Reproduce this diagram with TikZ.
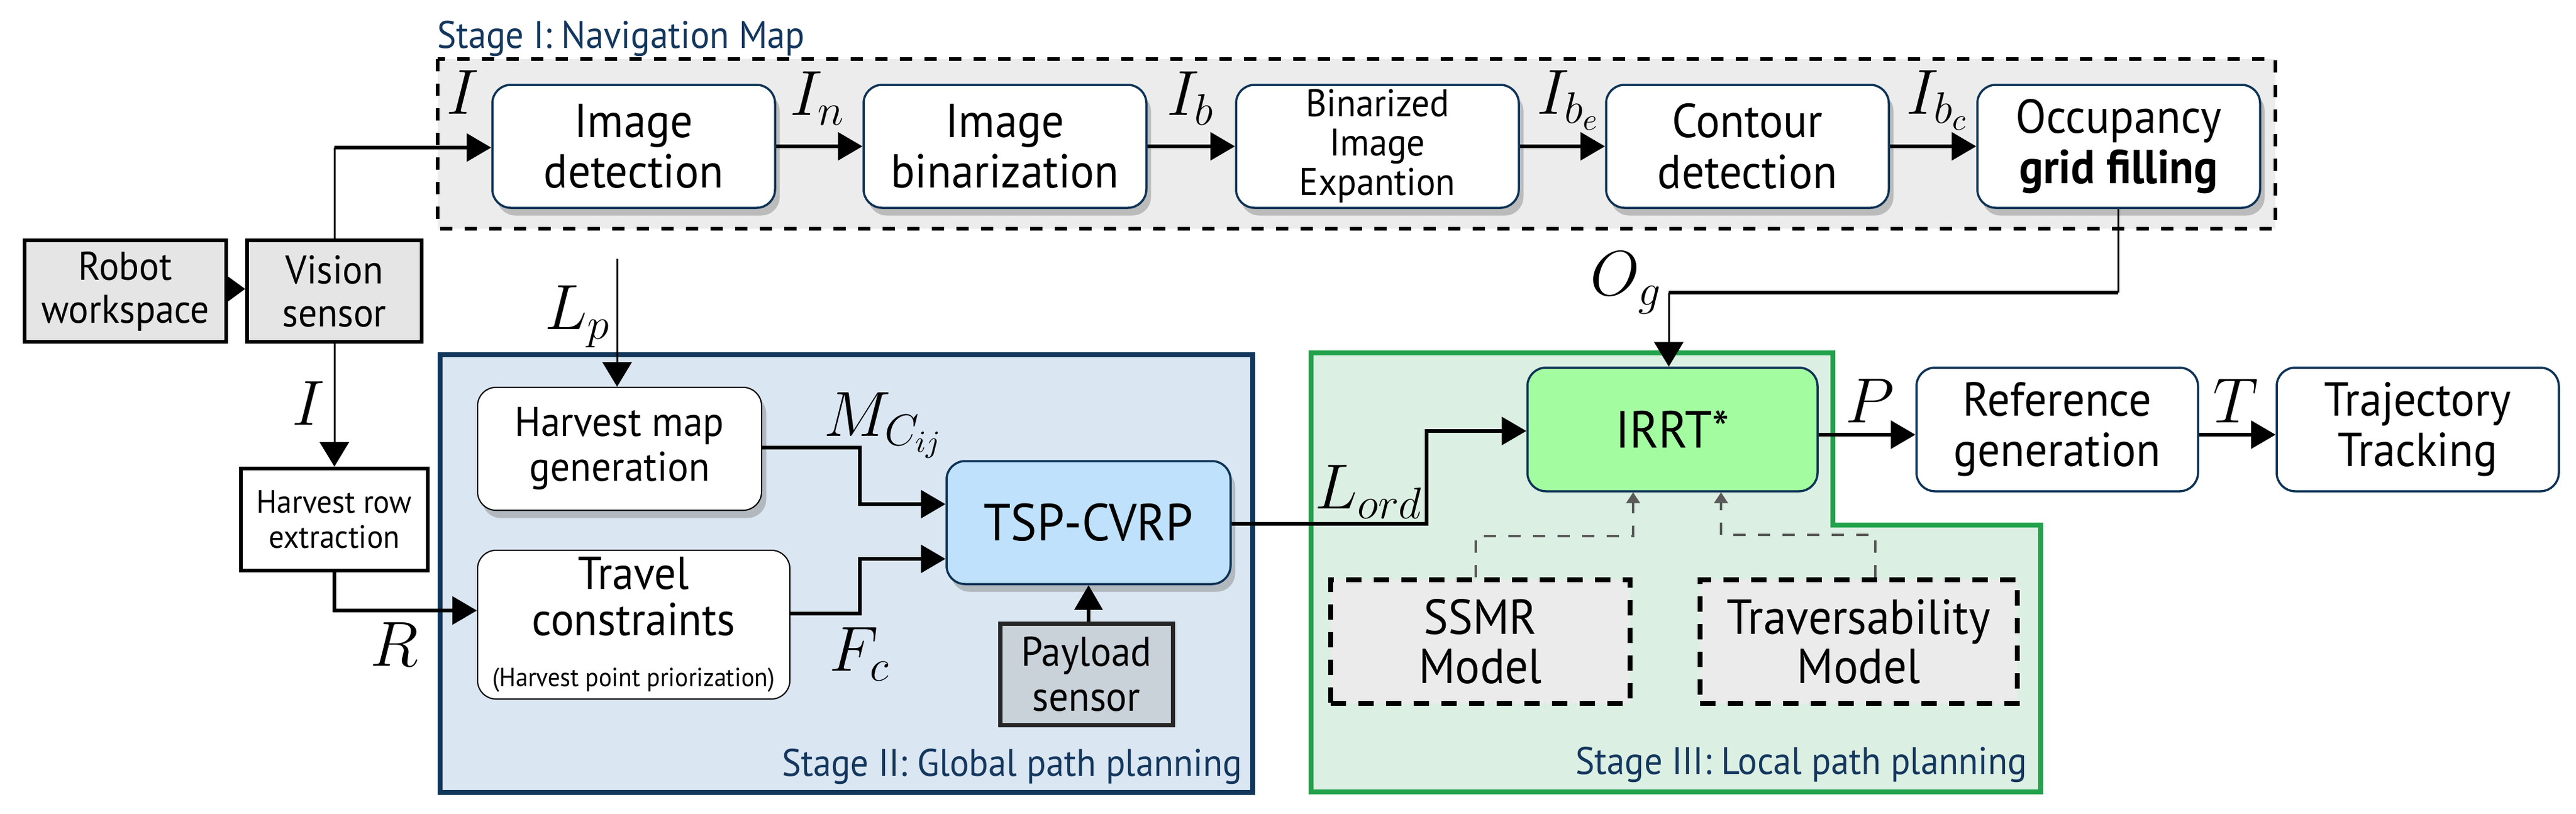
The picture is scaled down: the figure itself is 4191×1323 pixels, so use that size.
\documentclass[tikz,border=0pt]{standalone}
\usepackage[no-math]{fontspec}
\setmainfont{PT Sans}[FakeStretch=0.94]
\usetikzlibrary{arrows.meta,shadows}
\definecolor{nodeblue}{HTML}{0D3356}
\definecolor{titleblue}{HTML}{14375E}
\definecolor{stagegray}{HTML}{ECECEC}
\definecolor{boxgray}{HTML}{E5E5E5}
\definecolor{stagetwo}{HTML}{DAE6F2}
\definecolor{stagetwoborder}{HTML}{12375A}
\definecolor{tspfill}{HTML}{BFE1FB}
\definecolor{payfill}{HTML}{C9D1D9}
\definecolor{stagethree}{HTML}{DCEFE3}
\definecolor{stagethreeborder}{HTML}{22A24A}
\definecolor{irrtfill}{HTML}{A3FDA0}
\definecolor{modelgray}{HTML}{EBEBEB}
\definecolor{dgray}{HTML}{5A5A5A}
\newcommand\fsz[2]{\fontsize{#1}{#2}\selectfont}
\begin{document}
\begin{tikzpicture}[x=0.2pt,y=-0.2pt,
  proc/.style={draw=nodeblue, line width=0.7pt, fill=white, rounded corners=6pt,
    inner sep=0pt, align=center, minimum width=92pt, minimum height=40pt,
    font=\fsz{15.5}{16.5}},
  shad/.style={drop shadow={shadow xshift=1.5pt,shadow yshift=-2.5pt,opacity=0.45}},
  graybox/.style={draw=black, line width=1.2pt, fill=boxgray, inner sep=0pt,
    align=center, minimum height=33pt, font=\fsz{13}{14}},
  mainarr/.style={line width=1.2pt, -{Triangle[length=8pt,width=9pt]}},
  thinarr/.style={line width=0.6pt, -{Triangle[length=8pt,width=9.5pt]}},
  thinline/.style={line width=0.6pt},
  thickline/.style={line width=1.2pt},
  lab/.style={font=\fsz{20}{24}, inner sep=0pt},
  stitle/.style={text=titleblue, font=\fsz{12.5}{14}, inner sep=0pt},
  dmodel/.style={draw=black, line width=1.6pt, dash pattern=on 5pt off 4pt,
    fill=modelgray, inner sep=0pt, align=center, minimum height=40.2pt,
    font=\fsz{16}{16}},
  gdash/.style={draw=dgray, line width=0.8pt, dash pattern=on 4pt off 4pt,
    -{Triangle[length=3.5pt,width=4.4pt]}}
]
\useasboundingbox (0,0) rectangle (4191,1323);

% ---------- stage backgrounds ----------
\draw[line width=1.2pt, dash pattern=on 4pt off 4pt, fill=stagegray] (712,96) rectangle (3702,372);
\node[stitle, anchor=base west] (t1) at (710,78) {Stage I: Navigation Map};

\draw[line width=1.6pt, draw=stagetwoborder, fill=stagetwo] (716,577) rectangle (2038,1289);
\node[stitle, anchor=base east] (t2) at (2022,1262) {Stage II: Global path planning};

\draw[line width=1.6pt, draw=stagethreeborder, fill=stagethree]
  (2133,574) -- (2982,574) -- (2982,854) -- (3320,854) -- (3320,1288) -- (2133,1288) -- cycle;
\node[stitle, anchor=base east] (t3) at (3299,1259) {Stage III: Local path planning};

% ---------- left boxes ----------
\node[graybox, minimum width=65.6pt] (robot) at (204,473.5) {Robot\\workspace};
\node[graybox, minimum width=56.8pt] (vision) at (544,473.5) {Vision\\sensor};
\node[draw=black, line width=1.2pt, fill=white, inner sep=0pt, align=center,
  minimum width=60.8pt, minimum height=33.2pt, font=\fsz{10.5}{11.5}] (hrow) at (544,845) {Harvest row\\extraction};

% ---------- stage I nodes ----------
\node[proc, shad] (imgdet) at (1031,238) {Image\\detection};
\node[proc, shad] (imgbin) at (1635,238) {Image\\binarization};
\node[proc, shad, font=\fsz{12.5}{12.8}] (binexp) at (2241,238) {Binarized\\Image\\Expantion};
\node[proc, shad] (contour) at (2843,238) {Contour\\detection};
\node[proc, shad] (occ) at (3447,238) {Occupancy\\\textbf{grid filling}};

% ---------- stage II nodes ----------
\node[proc, shad, draw=black, line width=0.4pt, minimum width=92.4pt, font=\fsz{13.5}{14.6}] (hmap) at (1008,730) {Harvest map\\generation};
\node[proc, draw=black, line width=0.4pt, minimum width=101.6pt, minimum height=48.4pt, font=\fsz{15}{15}] (travel) at (1031,1016)
  {Travel\\constraints\\[1.5pt]{\fsz{8.5}{10}(Harvest point priorization)}};
\node[proc, shad, fill=tspfill, minimum width=92.4pt, font=\fsz{17}{18}] (tsp) at (1771,850) {TSP-CVRP};
\node[draw=black!85, line width=1.4pt, fill=payfill, inner sep=0pt, align=center,
  minimum width=56.2pt, minimum height=33pt, font=\fsz{13.5}{14.5}] (payload) at (1767.5,1096.5) {Payload\\sensor};

% ---------- stage III nodes ----------
\node[proc, fill=irrtfill, minimum width=94.4pt, minimum height=40.2pt, font=\fsz{17}{18}] (irrt) at (2721,698.5) {IRRT*};
\node[proc, minimum width=91.6pt, minimum height=40.2pt] (refgen) at (3347,698.5) {Reference\\generation};
\node[proc, minimum width=91.8pt, minimum height=40.2pt] (traj) at (3933.5,698.5) {Trajectory\\Tracking};
\node[dmodel, minimum width=97.4pt] (ssmr) at (2408.5,1043.5) {SSMR\\Model};
\node[dmodel, minimum width=103.2pt] (trav) at (3024,1043.5) {Traversability\\Model};

% ---------- coordinates ----------
\coordinate (c1) at (544,240);
\coordinate (lpstart) at (1004,421);
\coordinate (og1) at (3446,476);
\coordinate (og2) at (2715,476);
\coordinate (r1) at (544,993);

% ---------- connectors ----------
\draw[mainarr, -{Triangle[length=6pt,width=8.4pt]}] (robot.east |- 0,470) -- (vision.west |- 0,470);
\draw[thinline] (vision.north) -- (c1);
\draw[mainarr] (c1) -- (imgdet.west |- c1);
\draw[mainarr] (imgdet.east) -- (imgbin.west);
\draw[mainarr] (imgbin.east) -- (binexp.west);
\draw[mainarr] (binexp.east) -- (contour.west);
\draw[mainarr] (contour.east) -- (occ.west);

\draw[thinline] (occ.south -| og1) -- (og1);
\draw[thickline] (og1) -- (og2);
\draw[thinarr] (og2) -- (irrt.north -| og2);

\draw[thinarr] (lpstart) -- (hmap.north -| lpstart);
\draw[thinarr] (vision.south) -- (hrow.north);
\draw[mainarr] (hrow.south) -- (r1) -- (travel.west |- r1);

\draw[mainarr] (hmap.east |- 0,728) -- (1399,728) -- (1399,820) -- (tsp.west |- 0,820);
\draw[mainarr] (travel.east |- 0,998) -- (1399,998) -- (1399,909) -- (tsp.west |- 0,909);
\draw[mainarr] (payload.north -| 1771,0) -- (tsp.south -| 1771,0);

\draw[mainarr] (tsp.east |- 0,852) -- (2321,852) -- (2321,701) -- (irrt.west |- 0,701);
\draw[mainarr] (irrt.east |- 0,707) -- (refgen.west |- 0,707);
\draw[mainarr] (refgen.east |- 0,707) -- (traj.west |- 0,707);

\draw[gdash] (ssmr.north -| 2401,0) -- (2401,872) -- (2657,872) -- (irrt.south -| 2657,0);
\draw[gdash] (trav.north -| 3051,0) -- (3051,870) -- (2800,870) -- (irrt.south -| 2800,0);

% ---------- labels ----------
\node[lab] (lI) at (753,150) {$I$};
\node[lab] (lIn) at (1330,160) {$I_n$};
\node[lab] (lIb) at (1937,160) {$I_b$};
\node[lab] (lIbe) at (2552,163) {$I_{b_e}$};
\node[lab] (lIbc) at (3152,163) {$I_{b_c}$};
\node[lab] (lOg) at (2646,460) {$O_g$};
\node[lab] (lLp) at (940,515) {$L_p$};
\node[lab] (lI2) at (502,656) {$I$};
\node[lab] (lR) at (642,1048) {$R$};
\node[lab] (lM) at (1438,692) {$M_{C_{ij}}$};
\node[lab] (lF) at (1399,1064) {$F_c$};
\node[lab] (lL) at (2227,800) {$L_{ord}$};
\node[lab] (lP) at (3042,652) {$P$};
\node[lab] (lT) at (3637,652) {$T$};
\end{tikzpicture}
\end{document}
